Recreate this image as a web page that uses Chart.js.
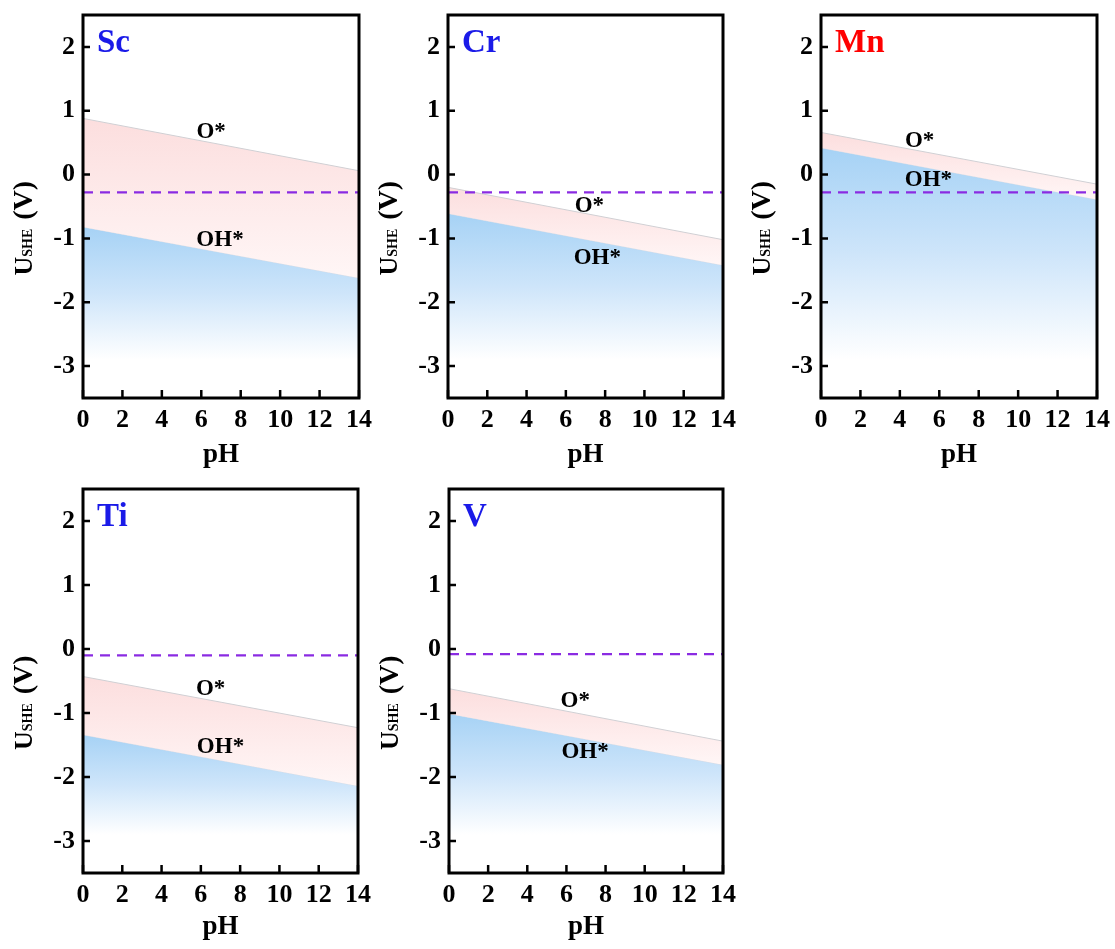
<!DOCTYPE html>
<html>
<head>
<meta charset="utf-8">
<script src="https://cdn.jsdelivr.net/npm/chart.js@4.4.1/dist/chart.umd.min.js"></script>
<style>
  body { margin: 0; background: #fff; width: 1115px; height: 949px; position: relative; overflow: hidden; }
  .panel { position: absolute; }
</style>
</head>
<body>
<script>
  // values (U_SHE in V at pH 0 and pH 14)
  const elements = ['Sc', 'Cr', 'Mn', 'Ti', 'V'];
  const pH = [0, 14];
  const oStar0 = [0.88, -0.20, 0.66, -0.43, -0.62];
  const oStar14 = [0.06, -1.02, -0.15, -1.23, -1.44];
  const ohStar0 = [-0.82, -0.61, 0.42, -1.34, -1.01];
  const ohStar14 = [-1.62, -1.42, -0.39, -2.14, -1.81];
  const limitU = [-0.28, -0.28, -0.28, -0.10, -0.08];
  const oLabelAt = [[6.5, 0.67], [7.2, -0.5], [5.0, 0.52], [6.5, -0.62], [6.45, -0.82]];
  const ohLabelAt = [[6.95, -1.02], [7.6, -1.3], [5.45, -0.08], [7.0, -1.54], [6.95, -1.61]];
  const xTicks = [0, 2, 4, 6, 8, 10, 12, 14];
  const yTicks = [-3, -2, -1, 0, 1, 2];

  const serif = "'Liberation Serif', 'Times New Roman', serif";
  const nameColors = ['#1a1ae8', '#1a1ae8', '#ff0000', '#1a1ae8', '#1a1ae8'];

  // page layout: canvas box and plot rect [left, top, right, bottom]
  const frames = [
    { left: 0, top: 0, w: 372, h: 470, plot: [83, 15, 359, 398], pHy: 455 },
    { left: 372, top: 0, w: 371, h: 470, plot: [448, 15, 723, 398], pHy: 455 },
    { left: 743, top: 0, w: 372, h: 470, plot: [821, 15, 1097, 398], pHy: 455 },
    { left: 0, top: 470, w: 372, h: 479, plot: [83, 489, 358, 873], pHy: 927 },
    { left: 372, top: 470, w: 371, h: 479, plot: [449, 489, 723, 873], pHy: 927 }
  ];

  Chart.defaults.font.family = serif;
  Chart.defaults.font.weight = 'bold';
  Chart.defaults.color = '#000';

  const decor = {
    id: 'decor',
    afterDatasetsDraw(chart, args, opts) {
      const { ctx, chartArea: a, scales: { x, y } } = chart;
      const i = opts.index;
      ctx.save();

      ctx.fillStyle = '#000';
      ctx.font = 'bold 23px ' + serif;
      ctx.textAlign = 'center';
      ctx.textBaseline = 'middle';
      ctx.fillText('O*', x.getPixelForValue(oLabelAt[i][0]), y.getPixelForValue(oLabelAt[i][1]));
      ctx.fillText('OH*', x.getPixelForValue(ohLabelAt[i][0]), y.getPixelForValue(ohLabelAt[i][1]));

      ctx.font = 'bold 33px ' + serif;
      ctx.fillStyle = nameColors[i];
      ctx.textAlign = 'left';
      ctx.textBaseline = 'alphabetic';
      ctx.fillText(elements[i], a.left + 14, a.top + 37);

      // frame and inward ticks
      ctx.strokeStyle = '#000';
      ctx.lineWidth = 3;
      ctx.strokeRect(a.left, a.top, a.right - a.left, a.bottom - a.top);
      ctx.beginPath();
      xTicks.forEach(v => {
        const px = x.getPixelForValue(v);
        ctx.moveTo(px, a.bottom);
        ctx.lineTo(px, a.bottom - 8);
      });
      yTicks.forEach(v => {
        const py = y.getPixelForValue(v);
        ctx.moveTo(a.left, py);
        ctx.lineTo(a.left + 7, py);
      });
      ctx.lineWidth = 2.5;
      ctx.stroke();

      // y axis title U_SHE (V)
      ctx.translate(a.left - 51, (a.top + a.bottom) / 2 + 69);
      ctx.rotate(-Math.PI / 2);
      ctx.fillStyle = '#000';
      ctx.textAlign = 'left';
      ctx.textBaseline = 'alphabetic';
      let cx = 0;
      ctx.font = 'bold 26px ' + serif;
      ctx.fillText('U', cx, 0);
      cx += ctx.measureText('U').width;
      ctx.font = 'bold 14px ' + serif;
      ctx.fillText('SHE', cx, 0);
      cx += ctx.measureText('SHE').width + 9;
      ctx.font = 'bold 28px ' + serif;
      ctx.fillText('(V)', cx, 0);
      ctx.restore();
    }
  };

  function pinkFill(i) {
    return context => {
      const chart = context.chart;
      if (!chart.chartArea) return 'rgba(0,0,0,0)';
      const y = chart.scales.y;
      const g = chart.ctx.createLinearGradient(0, y.getPixelForValue(oStar0[i]), 0, y.getPixelForValue(ohStar14[i]));
      g.addColorStop(0, 'rgb(252,222,222)');
      g.addColorStop(1, 'rgb(255,246,246)');
      return g;
    };
  }

  function blueFill(i) {
    return context => {
      const chart = context.chart;
      if (!chart.chartArea) return 'rgba(0,0,0,0)';
      const y = chart.scales.y;
      const g = chart.ctx.createLinearGradient(0, y.getPixelForValue(ohStar0[i]), 0, y.getPixelForValue(-2.9));
      g.addColorStop(0, 'rgb(166,210,245)');
      g.addColorStop(0.5, 'rgb(206,229,250)');
      g.addColorStop(1, 'rgb(255,255,255)');
      return g;
    };
  }

  elements.forEach((name, i) => {
    const f = frames[i];
    const div = document.createElement('div');
    div.className = 'panel';
    div.style.left = f.left + 'px';
    div.style.top = f.top + 'px';
    div.style.width = f.w + 'px';
    div.style.height = f.h + 'px';
    const canvas = document.createElement('canvas');
    div.appendChild(canvas);
    document.body.appendChild(div);

    const plotLeft = f.plot[0] - f.left;
    const plotTop = f.plot[1] - f.top;
    const plotRight = f.plot[2] - f.left;
    const plotBottom = f.plot[3] - f.top;
    const axisH = f.h - plotBottom;
    const titlePad = f.top + f.h - 16.2 - f.pHy;

    new Chart(canvas, {
      type: 'line',
      data: {
        datasets: [
          {
            label: 'limit',
            data: pH.map(p => ({ x: p, y: limitU[i] })),
            borderColor: '#8a2be2',
            borderWidth: 2.2,
            borderDash: [10, 7],
            pointRadius: 0,
            fill: false,
            order: 0
          },
          {
            label: 'O*',
            data: [{ x: pH[0], y: oStar0[i] }, { x: pH[1], y: oStar14[i] }],
            borderColor: 'rgb(208,208,212)',
            borderWidth: 1,
            pointRadius: 0,
            fill: { target: 2 },
            backgroundColor: pinkFill(i),
            order: 1
          },
          {
            label: 'OH*',
            data: [{ x: pH[0], y: ohStar0[i] }, { x: pH[1], y: ohStar14[i] }],
            borderColor: 'rgb(215,220,230)',
            borderWidth: 1,
            pointRadius: 0,
            fill: 'start',
            backgroundColor: blueFill(i),
            order: 2
          }
        ]
      },
      options: {
        responsive: true,
        maintainAspectRatio: false,
        animation: false,
        layout: { padding: { left: 0, top: plotTop, right: f.w - plotRight, bottom: 0 } },
        plugins: {
          legend: { display: false },
          tooltip: { enabled: false },
          decor: { index: i }
        },
        scales: {
          x: {
            type: 'linear',
            min: 0,
            max: 14,
            afterBuildTicks: s => { s.ticks = xTicks.map(v => ({ value: v })); },
            afterFit: s => { s.height = axisH; s.paddingLeft = 0; s.paddingRight = 0; },
            grid: { display: false, drawTicks: false },
            border: { display: false },
            ticks: { padding: 7, color: '#000', autoSkip: false, maxRotation: 0, font: { size: 26, weight: 'bold' } },
            title: { display: true, text: 'pH', color: '#000', font: { size: 27, weight: 'bold' }, padding: { top: 0, bottom: titlePad } }
          },
          y: {
            type: 'linear',
            min: -3.5,
            max: 2.5,
            afterBuildTicks: s => { s.ticks = yTicks.map(v => ({ value: v })); },
            afterFit: s => { s.width = plotLeft; s.paddingTop = 0; s.paddingBottom = 0; },
            grid: { display: false, drawTicks: false },
            border: { display: false },
            ticks: { padding: 8, color: '#000', font: { size: 26, weight: 'bold' } }
          }
        }
      },
      plugins: [decor]
    });
  });
</script>
</body>
</html>
